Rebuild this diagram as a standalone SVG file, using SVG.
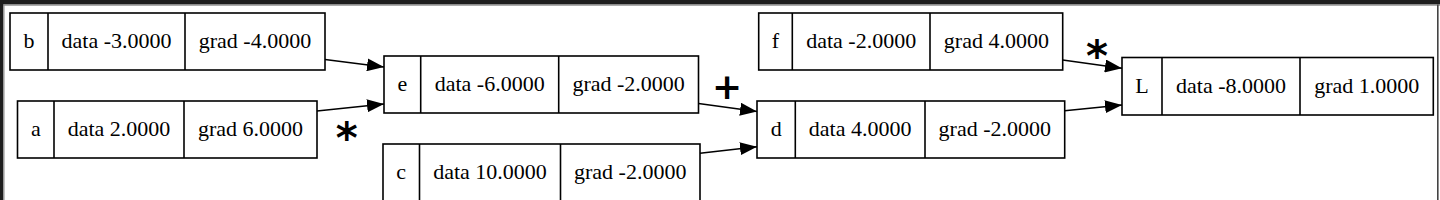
<svg xmlns="http://www.w3.org/2000/svg" width="1440" height="200" viewBox="0 0 1440 200">
  <defs>
    <marker id="arr" markerUnits="userSpaceOnUse" markerWidth="17" markerHeight="13" refX="17" refY="6.5" orient="auto">
      <path d="M0,0 L17,6.5 L0,13 z" fill="#000"/>
    </marker>
  </defs>
  <style>
    .box { fill: #fff; stroke: #000; stroke-width: 1.6; }
    .div { stroke: #000; stroke-width: 1.6; }
    .t { font-family: 'Liberation Serif', Tinos, 'Times New Roman', Times, 'DejaVu Serif', serif; font-size: 22px; fill: #000; text-anchor: middle; }
    .op { font-family: 'DejaVu Sans', sans-serif; font-weight: bold; fill: #000; text-anchor: middle; }
    .edge { fill: none; stroke: #000; stroke-width: 1.6; marker-end: url(#arr); }
  </style>
  <rect x="0" y="0" width="1440" height="200" fill="#fff"/>
  <rect x="0" y="0" width="1440" height="4.5" fill="#1e1e1e"/>
  <rect x="0" y="4.5" width="1440" height="1.2" fill="#8a8a8a"/>
  <rect x="0" y="0" width="3.3" height="200" fill="#1e1e1e"/>
  <rect x="3.3" y="4.5" width="1.2" height="195.5" fill="#8a8a8a"/>
  <rect x="1437" y="4.5" width="1.6" height="195.5" fill="#444"/>

  <g id="node-b">
    <rect class="box" x="10" y="13" width="315" height="57"/>
    <line class="div" x1="48" y1="13" x2="48" y2="70"/>
    <line class="div" x1="185" y1="13" x2="185" y2="70"/>
    <text class="t" x="29" y="48">b</text>
    <text class="t" x="116.5" y="48">data -3.0000</text>
    <text class="t" x="255" y="48">grad -4.0000</text>
  </g>
  <g id="node-a">
    <rect class="box" x="17.5" y="101" width="299.5" height="57"/>
    <line class="div" x1="54" y1="101" x2="54" y2="158"/>
    <line class="div" x1="184" y1="101" x2="184" y2="158"/>
    <text class="t" x="35.8" y="136">a</text>
    <text class="t" x="119" y="136">data 2.0000</text>
    <text class="t" x="250.5" y="136">grad 6.0000</text>
  </g>
  <g id="node-e">
    <rect class="box" x="384" y="56" width="314.5" height="57"/>
    <line class="div" x1="420.7" y1="56" x2="420.7" y2="113"/>
    <line class="div" x1="558.7" y1="56" x2="558.7" y2="113"/>
    <text class="t" x="402.3" y="91">e</text>
    <text class="t" x="489.7" y="91">data -6.0000</text>
    <text class="t" x="628.6" y="91">grad -2.0000</text>
  </g>
  <g id="node-c">
    <rect class="box" x="383" y="144" width="317" height="57"/>
    <line class="div" x1="419.5" y1="144" x2="419.5" y2="201"/>
    <line class="div" x1="560.5" y1="144" x2="560.5" y2="201"/>
    <text class="t" x="401.2" y="179">c</text>
    <text class="t" x="490" y="179">data 10.0000</text>
    <text class="t" x="630.2" y="179">grad -2.0000</text>
  </g>
  <g id="node-d">
    <rect class="box" x="757" y="101" width="307.7" height="57"/>
    <line class="div" x1="795.3" y1="101" x2="795.3" y2="158"/>
    <line class="div" x1="925" y1="101" x2="925" y2="158"/>
    <text class="t" x="776.2" y="136">d</text>
    <text class="t" x="860.2" y="136">data 4.0000</text>
    <text class="t" x="994.8" y="136">grad -2.0000</text>
  </g>
  <g id="node-f">
    <rect class="box" x="758.7" y="13" width="304" height="57"/>
    <line class="div" x1="792.3" y1="13" x2="792.3" y2="70"/>
    <line class="div" x1="930" y1="13" x2="930" y2="70"/>
    <text class="t" x="775.5" y="48">f</text>
    <text class="t" x="861.2" y="48">data -2.0000</text>
    <text class="t" x="996.4" y="48">grad 4.0000</text>
  </g>
  <g id="node-L">
    <rect class="box" x="1122" y="57.5" width="311.3" height="57.5"/>
    <line class="div" x1="1162" y1="57.5" x2="1162" y2="115"/>
    <line class="div" x1="1300" y1="57.5" x2="1300" y2="115"/>
    <text class="t" x="1142" y="92.5">L</text>
    <text class="t" x="1231" y="92.5">data -8.0000</text>
    <text class="t" x="1366.7" y="92.5">grad 1.0000</text>
  </g>

  <g id="edges">
    <path class="edge" d="M325,59.5 L384,67"/>
    <path class="edge" d="M317,111 L384,104"/>
    <path class="edge" d="M698.5,103.5 L757,111.5"/>
    <path class="edge" d="M700,153.3 L757,146.7"/>
    <path class="edge" d="M1064.7,110.7 L1122,105"/>
    <path class="edge" d="M1062.7,60 L1122,68.3"/>
  </g>

  <g id="ops">
    <text class="op" x="727" y="99" font-size="36">+</text>
    <text class="op" x="346.7" y="153" font-size="42">*</text>
    <text class="op" x="1097" y="71" font-size="42">*</text>
  </g>
</svg>
